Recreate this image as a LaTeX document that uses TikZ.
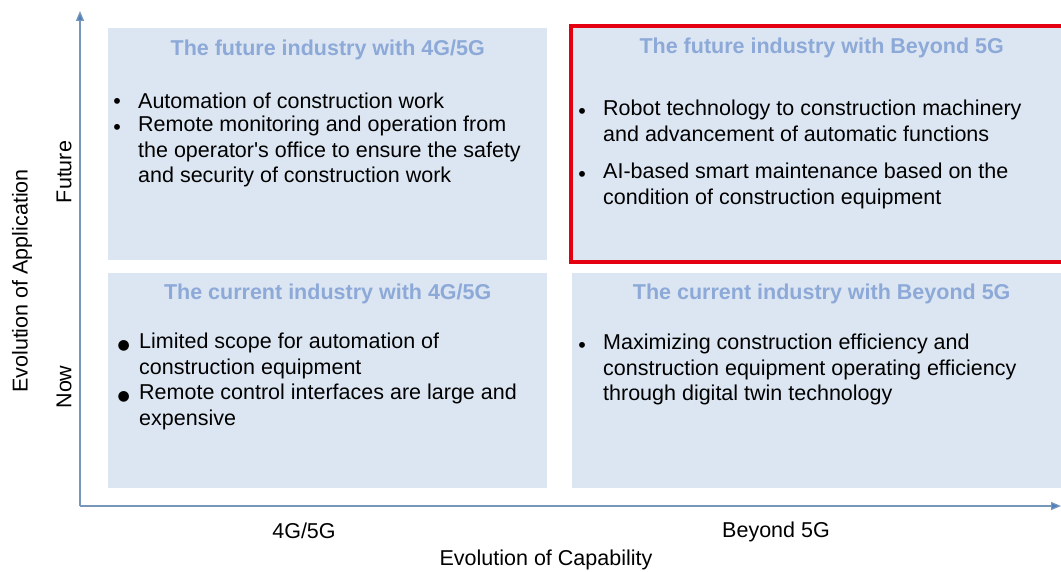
\documentclass[tikz,border=0pt]{standalone}
\usepackage{fontspec}
\setmainfont{Liberation Sans}
\newfontfamily\symfont{DejaVu Sans}
\usetikzlibrary{positioning,arrows.meta}

\definecolor{panelfill}{RGB}{220,230,242}
\definecolor{titleblue}{RGB}{141,169,216}
\definecolor{axisblue}{RGB}{118,150,186}
\definecolor{tipblue}{RGB}{79,129,189}
\definecolor{markred}{RGB}{228,0,16}

\begin{document}
\begin{tikzpicture}[x=1pt,y=-1pt,
    panel/.style={fill=panelfill, draw=none, anchor=north west, inner sep=0pt},
    title/.style={font=\fontsize{21.5}{25.5}\selectfont\bfseries, text=titleblue, inner sep=0pt},
    item/.style={font=\fontsize{21.5}{25.5}\selectfont, align=left, inner sep=0pt, anchor=north west,
        execute at begin node=\strut},
    dot/.style={font=\fontsize{21.5}{25.5}\selectfont, inner sep=0pt, execute at begin node=\strut},
    bigdot/.style={font=\symfont\fontsize{14}{25.5}\selectfont, inner sep=0pt, execute at begin node=\strut},
    axislabel/.style={font=\fontsize{21.5}{25.5}\selectfont, inner sep=0pt},
    axis/.style={draw=axisblue, line width=1.2pt, -{Triangle[length=10pt,width=8pt,fill=tipblue]}}]
    \useasboundingbox (0,0) rectangle (1061,572);

    % quadrants
    \node[panel, minimum width=439pt, minimum height=232pt] (fut4g) at (108,28) {};
    \node[panel, minimum width=495pt, minimum height=234pt] (futb5g) at (572,27) {};
    \node[panel, minimum width=439pt, minimum height=215pt] (cur4g) at (108,273) {};
    \node[panel, minimum width=495pt, minimum height=215pt] (curb5g) at (572,273) {};
    \draw[markred, line width=4pt] (571,26) rectangle (1070,262);

    % titles
    \node[title, below=27.5pt of fut4g.north, anchor=base] (t1) {The future industry with 4G/5G};
    \node[title, below=27pt of futb5g.north, anchor=base, xshift=2pt] (t2) {The future industry with Beyond 5G};
    \node[title, below=27pt of cur4g.north, anchor=base] (t3) {The current industry with 4G/5G};
    \node[title, below=27pt of curb5g.north, anchor=base, xshift=2pt] (t4) {The current industry with Beyond 5G};

    % future, 4G/5G
    \node[item] (f4a) at (138,90) {Automation of construction work};
    \node[item] (f4b) at (138,116) {Remote monitoring and operation from\\the operator\textquotesingle s office to ensure the safety\\and security of construction work};
    \node[dot, left=17pt of f4a.north west, anchor=north east] {•};
    \node[dot, left=17pt of f4b.north west, anchor=north east] {•};

    % future, beyond 5G
    \node[item] (fba) at (603,100) {Robot technology to construction machinery\\and advancement of automatic functions};
    \node[item] (fbb) at (603,163) {AI-based smart maintenance based on the\\condition of construction equipment};
    \node[dot, left=17pt of fba.north west, anchor=north east] {•};
    \node[dot, left=17pt of fbb.north west, anchor=north east] {•};

    % current, 4G/5G
    \node[item] (c4a) at (139,333) {Limited scope for automation of\\construction equipment};
    \node[item] (c4b) at (139,384) {Remote control interfaces are large and\\expensive};
    \node[bigdot, left=9pt of c4a.north west, anchor=north east] {\raisebox{2pt}{●}};
    \node[bigdot, left=9pt of c4b.north west, anchor=north east] {\raisebox{2pt}{●}};

    % current, beyond 5G
    \node[item] (cba) at (603,334) {Maximizing construction efficiency and\\construction equipment operating efficiency\\through digital twin technology};
    \node[dot, left=17pt of cba.north west, anchor=north east] {•};

    % axes
    \coordinate (origin) at (80,506);
    \coordinate (ytip) at (80,11);
    \coordinate (xtip) at (1061,506);
    \draw[axis] (origin) -- (ytip);
    \draw[axis] (origin) -- (xtip);

    \node[axislabel, rotate=90] (yname) at (22,281) {Evolution of Application};
    \node[axislabel, rotate=90] (yfut) at (64,172) {Future};
    \node[axislabel, rotate=90] (ynow) at (64,387) {Now};
    \node[axislabel] (x4g) at (304,531) {4G/5G};
    \node[axislabel] (xb5g) at (776,532) {Beyond 5G};
    \node[axislabel] (xname) at (546,560) {Evolution of Capability};
\end{tikzpicture}
\end{document}
